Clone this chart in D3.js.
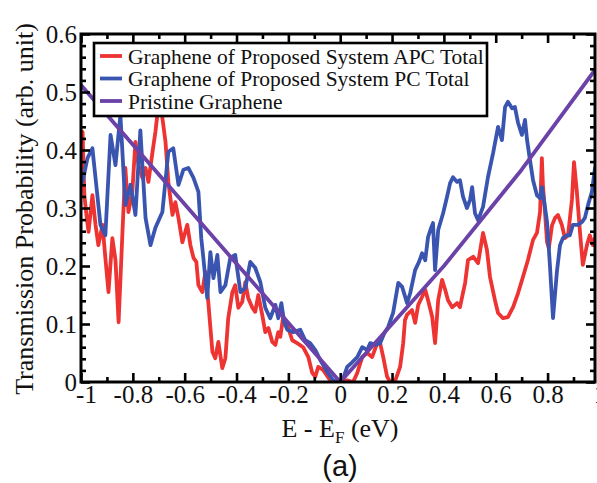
<!DOCTYPE html>
<html><head><meta charset="utf-8">
<script src="https://cdn.jsdelivr.net/npm/d3@7/dist/d3.min.js"></script>
<style>body{margin:0;background:#fff;}svg{display:block;}</style>
</head><body>
<svg id="c" width="597" height="483"></svg>
<script>
const seriesNames = ["Graphene of Proposed System APC Total","Graphene of Proposed System PC Total","Pristine Graphene"];
const seriesColors = ["#ee3333","#3a55b0","#6a42a8"];
const xTicks = [-1,-0.8,-0.6,-0.4,-0.2,0,0.2,0.4,0.6,0.8,1];
const xTickLabels = ["-1","-0.8","-0.6","-0.4","-0.2","0","0.2","0.4","0.6","0.8","1"];
const yTicks = [0,0.1,0.2,0.3,0.4,0.5,0.6];
const yTickLabels = ["0","0.1","0.2","0.3","0.4","0.5","0.6"];

const apcE = [-0.994,-0.987,-0.979,-0.971,-0.956,-0.944,-0.933,-0.917,-0.906,-0.894,-0.879,-0.867,-0.855,-0.840,-0.829,-0.817,-0.802,-0.790,-0.778,-0.763,-0.751,-0.740,-0.724,-0.713,-0.701,-0.690,-0.674,-0.663,-0.647,-0.636,-0.624,-0.609,-0.590,-0.578,-0.566,-0.555,-0.547,-0.532,-0.520,-0.509,-0.493,-0.482,-0.470,-0.455,-0.443,-0.432,-0.416,-0.405,-0.393,-0.378,-0.366,-0.355,-0.339,-0.328,-0.316,-0.301,-0.289,-0.277,-0.262,-0.250,-0.239,-0.231,-0.220,-0.204,-0.185,-0.166,-0.143,-0.123,-0.108,-0.096,-0.085,-0.066,-0.039,-0.012,0.027,0.050,0.066,0.085,0.104,0.123,0.143,0.154,0.166,0.181,0.193,0.212,0.231,0.243,0.250,0.258,0.277,0.289,0.301,0.316,0.328,0.339,0.355,0.366,0.378,0.393,0.405,0.416,0.432,0.451,0.462,0.482,0.493,0.513,0.532,0.551,0.566,0.578,0.597,0.609,0.628,0.647,0.667,0.686,0.705,0.724,0.744,0.759,0.771,0.778,0.782,0.790,0.798,0.805,0.817,0.829,0.840,0.855,0.867,0.879,0.894,0.902,0.913,0.925,0.936,0.952,0.963,0.975,0.983];
const apcT = [0.431,0.322,0.288,0.259,0.322,0.271,0.236,0.271,0.214,0.155,0.248,0.210,0.103,0.259,0.369,0.293,0.328,0.414,0.374,0.352,0.369,0.345,0.397,0.431,0.478,0.469,0.414,0.345,0.288,0.310,0.283,0.241,0.271,0.236,0.214,0.207,0.167,0.155,0.190,0.138,0.052,0.041,0.069,0.024,0.041,0.110,0.155,0.167,0.128,0.138,0.172,0.145,0.128,0.121,0.150,0.116,0.086,0.093,0.069,0.064,0.086,0.078,0.112,0.098,0.072,0.067,0.060,0.043,0.016,0.009,0.026,0.021,0.003,0.000,0.003,0.000,0.016,0.043,0.050,0.043,0.067,0.067,0.043,0.009,0.000,0.002,0.026,0.067,0.107,0.116,0.124,0.102,0.133,0.147,0.159,0.141,0.112,0.067,0.141,0.176,0.159,0.141,0.129,0.136,0.129,0.171,0.210,0.216,0.205,0.257,0.228,0.181,0.141,0.119,0.110,0.112,0.129,0.153,0.181,0.210,0.245,0.257,0.293,0.386,0.340,0.293,0.241,0.231,0.270,0.283,0.288,0.271,0.248,0.253,0.314,0.379,0.328,0.259,0.202,0.236,0.253,0.236,0.248];

const pcE = [-0.994,-0.975,-0.956,-0.944,-0.925,-0.906,-0.886,-0.867,-0.848,-0.829,-0.809,-0.790,-0.771,-0.751,-0.732,-0.713,-0.686,-0.663,-0.644,-0.624,-0.605,-0.586,-0.566,-0.547,-0.536,-0.528,-0.513,-0.501,-0.489,-0.474,-0.462,-0.443,-0.424,-0.405,-0.385,-0.366,-0.347,-0.328,-0.308,-0.289,-0.270,-0.250,-0.239,-0.227,-0.216,-0.204,-0.181,-0.154,-0.135,-0.116,-0.096,-0.077,-0.050,-0.027,-0.008,0.012,0.027,0.046,0.066,0.085,0.104,0.116,0.135,0.154,0.170,0.185,0.204,0.224,0.239,0.258,0.270,0.289,0.304,0.316,0.328,0.339,0.351,0.358,0.366,0.378,0.397,0.412,0.424,0.435,0.451,0.462,0.474,0.489,0.501,0.509,0.520,0.532,0.551,0.570,0.590,0.609,0.624,0.636,0.647,0.663,0.674,0.686,0.701,0.713,0.721,0.732,0.744,0.759,0.771,0.778,0.786,0.798,0.809,0.821,0.836,0.848,0.859,0.875,0.886,0.898,0.917,0.933,0.944,0.956,0.971,0.983];
const pcT = [0.345,0.386,0.403,0.352,0.271,0.253,0.426,0.374,0.460,0.305,0.340,0.288,0.434,0.283,0.236,0.266,0.293,0.397,0.403,0.340,0.366,0.369,0.352,0.328,0.248,0.214,0.145,0.224,0.179,0.219,0.155,0.167,0.214,0.219,0.155,0.162,0.207,0.197,0.172,0.128,0.110,0.133,0.110,0.136,0.103,0.090,0.086,0.090,0.072,0.067,0.055,0.038,0.017,0.003,0.000,0.007,0.026,0.034,0.043,0.060,0.055,0.067,0.064,0.067,0.084,0.095,0.119,0.171,0.164,0.136,0.153,0.193,0.207,0.222,0.210,0.250,0.266,0.274,0.193,0.262,0.291,0.319,0.343,0.353,0.345,0.348,0.319,0.300,0.314,0.336,0.291,0.279,0.302,0.353,0.395,0.440,0.417,0.474,0.483,0.472,0.474,0.447,0.426,0.452,0.417,0.383,0.348,0.322,0.317,0.336,0.314,0.276,0.202,0.110,0.190,0.236,0.248,0.253,0.253,0.271,0.271,0.276,0.283,0.305,0.328,0.369];

const pristineE = [-1,-0.5,0,0.4,0.7,0.983];
const pristineT = [0.512,0.255,0,0.2,0.366,0.538];

const svg = d3.select("#c");
const L = 81, R = 595, T = 34, B = 382;
const x = d3.scaleLinear().domain([-1, 0.983]).range([L, R]);
const y = d3.scaleLinear().domain([0, 0.6]).range([B, T]);
const serif = "Liberation Serif, Times New Roman, Times, DejaVu Serif, serif";

svg.append("defs").append("clipPath").attr("id","clip")
  .append("rect").attr("x",L).attr("y",T).attr("width",R-L).attr("height",B-T);

const line = d3.line().x(d=>x(d[0])).y(d=>y(d[1]));
const series = [
  d3.zip(apcE, apcT),
  d3.zip(pcE, pcT),
  d3.zip(pristineE, pristineT)
];
const g = svg.append("g").attr("clip-path","url(#clip)");
series.forEach((s,i)=>{
  g.append("path").datum(s).attr("d",line).attr("fill","none")
   .attr("stroke",seriesColors[i]).attr("stroke-width",3.8)
   .attr("stroke-linejoin","round").attr("stroke-linecap","round");
});

const xMinor = d3.range(-0.9, 1.0, 0.2).map(v=>+v.toFixed(2));
const yMinor = d3.range(0, 0.6001, 0.02).map(v=>+v.toFixed(2)).filter(v=>Math.abs(v*10-Math.round(v*10))>1e-6);

function tickAxis(axisFn, scale, vals, len, transform, labels){
  const a = axisFn(scale).tickValues(vals).tickSizeInner(len).tickSizeOuter(0);
  if (labels) a.tickFormat((d,i)=>labels[i]); else a.tickFormat("");
  const gg = svg.append("g").attr("transform",transform).call(a);
  gg.select(".domain").remove();
  gg.selectAll(".tick line").attr("stroke","#000").attr("stroke-width",2.6);
  gg.attr("font-family", serif);
  return gg;
}
const gx = tickAxis(d3.axisBottom, x, xTicks, -9, `translate(0,${B})`, xTickLabels);
gx.selectAll("text").style("font-family",serif).attr("font-size",25).attr("fill","#111").attr("y",3).attr("dy","0.71em");
gx.selectAll(".tick").filter(d=>d===-1).select("text").attr("dx",5);
tickAxis(d3.axisBottom, x, xMinor, -5, `translate(0,${B})`);
tickAxis(d3.axisTop, x, xTicks.filter(v=>v<0.99), -9, `translate(0,${T})`);
tickAxis(d3.axisTop, x, xMinor, -5, `translate(0,${T})`);
const gy = tickAxis(d3.axisLeft, y, yTicks, -9, `translate(${L},0)`, yTickLabels);
gy.selectAll("text").style("font-family",serif).attr("font-size",25).attr("fill","#111").attr("x",-4);
tickAxis(d3.axisLeft, y, yMinor, -5, `translate(${L},0)`);
tickAxis(d3.axisRight, y, yTicks, -9, `translate(${R},0)`);
tickAxis(d3.axisRight, y, yMinor, -5, `translate(${R},0)`);

svg.append("rect").attr("x",L).attr("y",T).attr("width",R-L).attr("height",B-T)
  .attr("fill","none").attr("stroke","#000").attr("stroke-width",3);

const lg = svg.append("g");
lg.append("rect").attr("x",94).attr("y",43).attr("width",393).attr("height",73)
  .attr("fill","#fff").attr("stroke","#000").attr("stroke-width",2.6);
seriesNames.forEach((n,i)=>{
  const yy = 56 + i*22.5;
  lg.append("line").attr("x1",100).attr("x2",122).attr("y1",yy).attr("y2",yy)
    .attr("stroke",seriesColors[i]).attr("stroke-width",3.8);
  lg.append("text").attr("x",128).attr("y",yy).attr("dy","0.35em")
    .style("font-family",serif).attr("font-size",21.5).attr("fill","#111").text(n);
});

const xt = svg.append("text").attr("x",340).attr("y",437).attr("text-anchor","middle")
  .style("font-family",serif).attr("font-size",26).attr("fill","#111");
xt.append("tspan").text("E - E");
xt.append("tspan").attr("font-size",17).attr("dy",6).text("F");
xt.append("tspan").attr("dy",-6).text(" (eV)");

svg.append("text").attr("transform","translate(33,209) rotate(-90)").attr("text-anchor","middle")
  .style("font-family",serif).attr("font-size",26).attr("fill","#111")
  .text("Transmission Probability (arb. unit)");

svg.append("text").attr("x",340).attr("y",476).attr("text-anchor","middle")
  .style("font-family","Liberation Sans, Arial, sans-serif").attr("font-size",29).attr("fill","#111")
  .text("(a)");
</script>
</body></html>
